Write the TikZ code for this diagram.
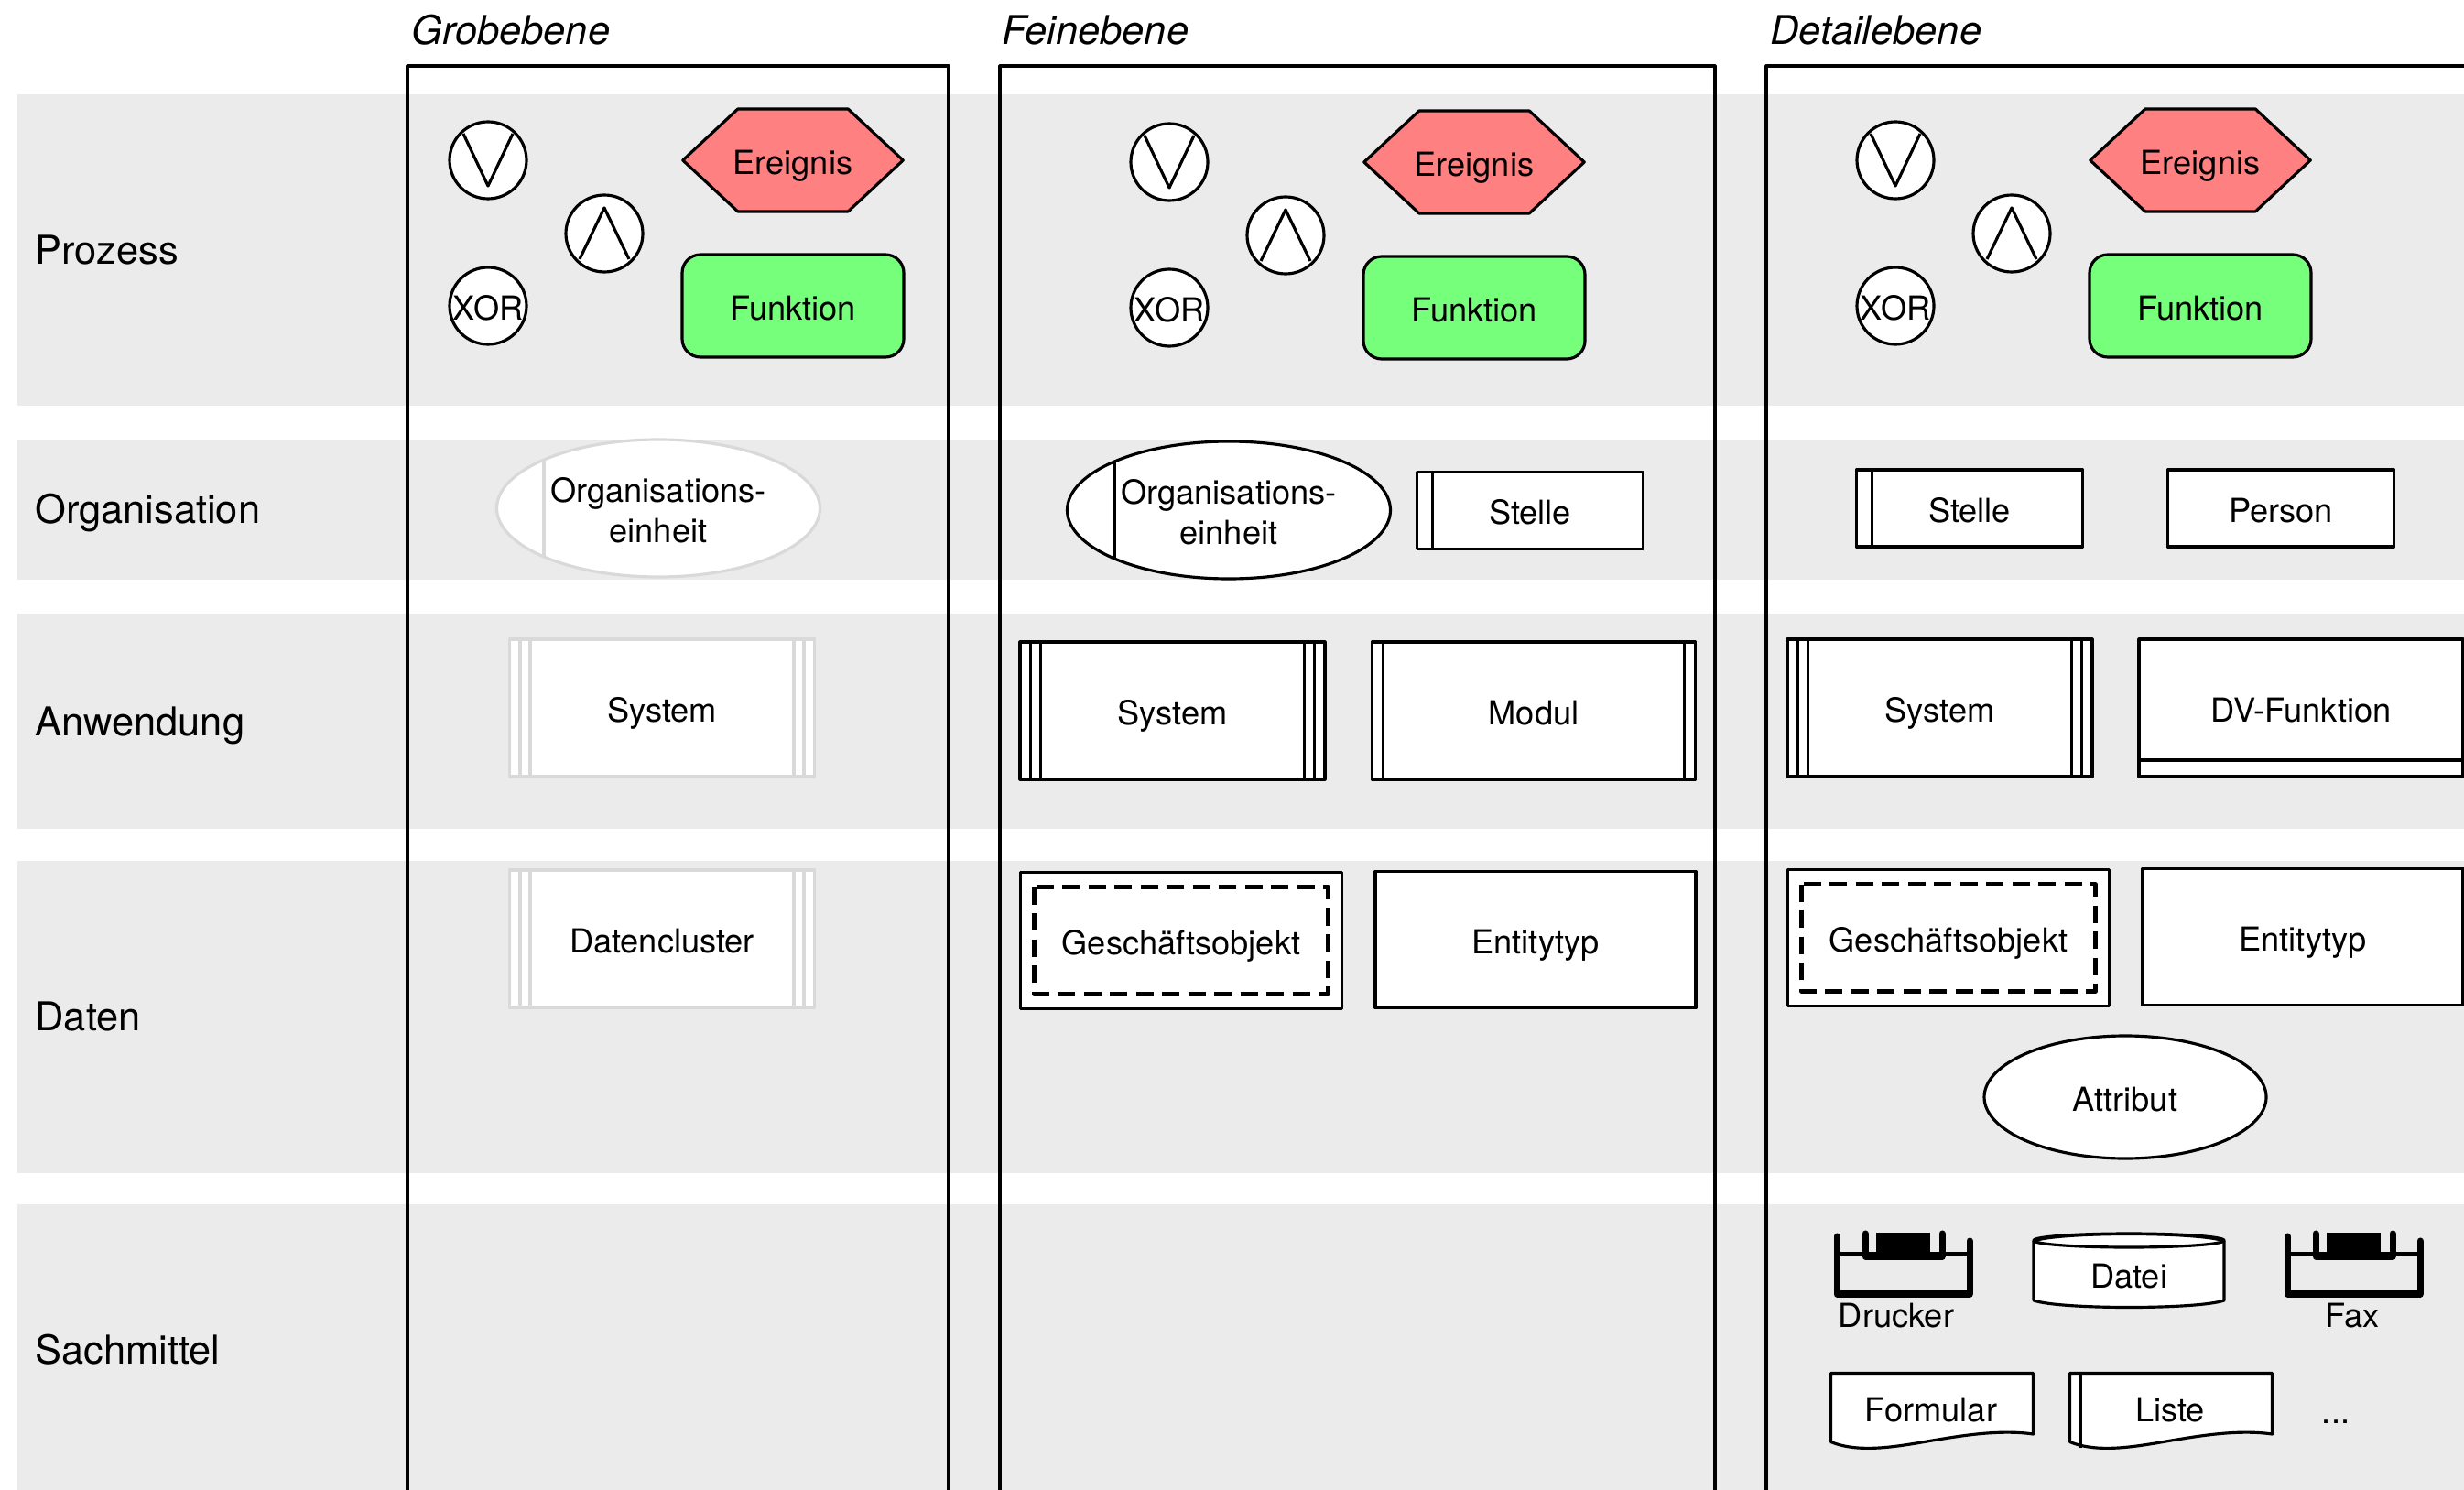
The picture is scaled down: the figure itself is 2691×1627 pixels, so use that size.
\documentclass[tikz,border=0pt]{standalone}
\usepackage{fontspec}
\setmainfont{TeX Gyre Heros}
\definecolor{bandgray}{RGB}{235,235,235}
\definecolor{fadegray}{RGB}{217,217,217}
\definecolor{eventred}{RGB}{255,128,128}
\definecolor{funcgreen}{RGB}{118,255,122}
\usetikzlibrary{shapes.geometric,shapes.symbols}
\begin{document}
\begin{tikzpicture}
    [
    x=0.1mm,y=-0.1mm,line width=0.9pt,line join=round,
    every node/.style={font=\fontsize{10.3}{12.5}\selectfont,align=center,inner sep=0pt,text height=8.6pt,text depth=0pt},
    band/.style={draw=none,fill=bandgray,anchor=north west,minimum width=26.74cm},
    rowlabel/.style={anchor=west,font=\fontsize{12.35}{15}\selectfont},
    level/.style={anchor=west,font=\fontsize{12.35}{15}\itshape\selectfont},
    gate/.style={circle,draw,fill=white,minimum size=8.4mm},
    event/.style={signal,signal to=west and east,signal pointer angle=86,inner xsep=-0.5mm,draw,fill=eventred,minimum height=11.2mm},
    func/.style={rectangle,rounded corners=2mm,draw,fill=funcgreen,minimum width=24.2mm,minimum height=11.2mm},
    box/.style={rectangle,draw=#1,fill=white},
    box/.default=black,
    stelle/.style={box,minimum width=24.7mm,minimum height=8.4mm,path picture={
      \draw ([xshift=1.7mm]path picture bounding box.north west) -- ([xshift=1.7mm]path picture bounding box.south west);}},
    orgunit/.style={ellipse,draw=#1,fill=white,minimum width=35.3mm,minimum height=15mm,text height=21.5pt,text depth=0pt,path picture={
      \draw[#1] ([xshift=5.15mm]path picture bounding box.north west) -- ([xshift=5.15mm]path picture bounding box.south west);}},
    orgunit/.default=black,
    system/.style={box=#1,minimum width=33.3mm,minimum height=15mm,path picture={
      \draw[#1] ([xshift=1.15mm]path picture bounding box.north west) -- ([xshift=1.15mm]path picture bounding box.south west);
      \draw[#1] ([xshift=2.25mm]path picture bounding box.north west) -- ([xshift=2.25mm]path picture bounding box.south west);
      \draw[#1] ([xshift=-1.15mm]path picture bounding box.north east) -- ([xshift=-1.15mm]path picture bounding box.south east);
      \draw[#1] ([xshift=-2.25mm]path picture bounding box.north east) -- ([xshift=-2.25mm]path picture bounding box.south east);}},
    system/.default=black,
    modul/.style={box,minimum width=35.3mm,minimum height=15mm,path picture={
      \draw ([xshift=1.2mm]path picture bounding box.north west) -- ([xshift=1.2mm]path picture bounding box.south west);
      \draw ([xshift=-1.2mm]path picture bounding box.north east) -- ([xshift=-1.2mm]path picture bounding box.south east);}},
    bizobj/.style={box,line width=1pt,minimum width=35.1mm,minimum height=14.9mm,path picture={
      \draw[line width=1.2pt,dash pattern=on 1.9mm off 0.95mm] ([shift={(1.5mm,-1.6mm)}]path picture bounding box.north west) rectangle ([shift={(-1.5mm,1.6mm)}]path picture bounding box.south east);}},
    entity/.style={box,minimum width=35mm,minimum height=14.9mm},
    attribute/.style={ellipse,draw,fill=white,minimum width=30.8mm,minimum height=13.4mm},
    tray/.style={line width=2pt,line cap=round}
    ]
    \useasboundingbox (0,0) rectangle (2691,1627);

    % rows
    \node (bandP) at (17,101.5) [band,minimum height=34.0mm] {};
    \node (bandO) at (17,478.5) [band,minimum height=15.3mm] {};
    \node (bandA) at (17,668.5) [band,minimum height=23.5mm] {};
    \node (bandD) at (17,938.5) [band,minimum height=34.1mm] {};
    \node (bandS) at (17,1313.5) [band,minimum height=31.4mm] {};
    \node (labelP) at (37,273) [rowlabel] {Prozess};
    \node (labelO) at (37,556) [rowlabel] {Organisation};
    \node (labelA) at (37,788) [rowlabel] {Anwendung};
    \node (labelD) at (37,1110) [rowlabel] {Daten};
    \node (labelS) at (37,1474) [rowlabel] {Sachmittel};

    % columns
    \node (levelG) at (448,33) [level] {Grobebene};
    \node (levelF) at (1093,33) [level] {Feinebene};
    \node (levelD) at (1932,33) [level] {Detailebene};
    \coordinate (g1) at (445,1627);
    \coordinate (g2) at (1036,1627);
    \coordinate (f1) at (1092,1627);
    \coordinate (f2) at (1873,1627);
    \coordinate (d1) at (1929,1627);
    \coordinate (d2) at (2691,72);
    \draw (g1) |- (445,72) -| (g2);
    \draw (f1) |- (1092,72) -| (f2);
    \draw (d1) |- (d2);

    % process symbols
    \foreach \name/\dx/\dy in {g/0/0,f/744/2,d/1537/0}{
      \begin{scope}[xshift=\dx*0.1mm,yshift=-\dy*0.1mm]
        \node (\name or) at (533,175) [gate] {};
        \node (\name and) at (660,255) [gate] {};
        \node (\name xor) at (533,334) [gate] {XOR};
        \draw (506,146) -- (533,203) -- (560,146);
        \draw (633,283) -- (660,227) -- (687,283);
        \node (\name event) at (866,175) [event] {Ereignis};
        \node (\name func) at (866,334) [func] {Funktion};
      \end{scope}
    }

    % coarse level
    \node (gorg) at (719,555) [orgunit=fadegray] {Organisations-\\einheit};
    \node (gsys) at (723,773) [system=fadegray] {System};
    \node (gcluster) at (723,1025) [system=fadegray] {Datencluster};

    % fine level
    \node (forg) at (1342,557) [orgunit] {Organisations-\\einheit};
    \node (fstelle) at (1671,557.5) [stelle] {Stelle};
    \node (fsys) at (1280.5,776) [system] {System};
    \node (fmod) at (1675,776) [modul] {Modul};
    \node (fobj) at (1290,1027) [bizobj] {Geschäftsobjekt};
    \node (fent) at (1677,1026) [entity] {Entitytyp};

    % detail level
    \node (dstelle) at (2151,555) [stelle] {Stelle};
    \node (dperson) at (2491,555) [box,minimum width=24.7mm,minimum height=8.4mm] {Person};
    \node (dsys) at (2118.5,773) [system] {System};
    \node (dfunc) at (2513,773) [box,minimum width=35.4mm,minimum height=15mm,path picture={
      \draw ([yshift=1.8mm]path picture bounding box.south west) -- ([yshift=1.8mm]path picture bounding box.south east);}] {DV-Funktion};
    \node (dobj) at (2128,1024) [bizobj] {Geschäftsobjekt};
    \node (dent) at (2515,1023) [entity] {Entitytyp};
    \node (dattr) at (2321,1198) [attribute] {Attribut};

    % resources
    \foreach \dx in {0,492}{
      \begin{scope}[xshift=\dx*0.1mm]
        \draw (2006,1369) -- (2151,1369);
        \fill (2049,1346) rectangle (2108,1371);
        \draw [tray] (2006,1350) -- (2006,1413) -- (2151,1413) -- (2151,1355);
        \draw [tray] (2037,1347) -- (2037,1372) -- (2121,1372) -- (2121,1347);
      \end{scope}
    }
    \draw [fill=white] (2221,1355) -- (2221,1420) .. controls (2250,1430) and (2400,1430) .. (2429,1420) -- (2429,1355) .. controls (2400,1345) and (2250,1345) .. cycle;
    \draw (2325,1354.5) ellipse [x radius=104,y radius=7.5];
    \foreach \dx in {0,261}{
      \begin{scope}[xshift=\dx*0.1mm]
        \draw [fill=white] (1999.5,1499.5) -- (2220.5,1499.5) -- (2220.5,1566) .. controls (2180,1560) and (2130,1570) .. (2110,1573) .. controls (2070,1580) and (2030,1587) .. (1999.5,1574.5) -- cycle;
      \end{scope}
    }
    \draw (2272.5,1499.5) -- (2272.5,1581);

    \node (ddatei) at (2325,1391) {Datei};
    \node (ddrucker) at (2071,1434) {Drucker};
    \node (dfax) at (2569,1434) {Fax};
    \node (dform) at (2109,1537) {Formular};
    \node (dliste) at (2370,1537) {Liste};
    \node (dmore) at (2551,1539) {...};
  \end{tikzpicture}
\end{document}
